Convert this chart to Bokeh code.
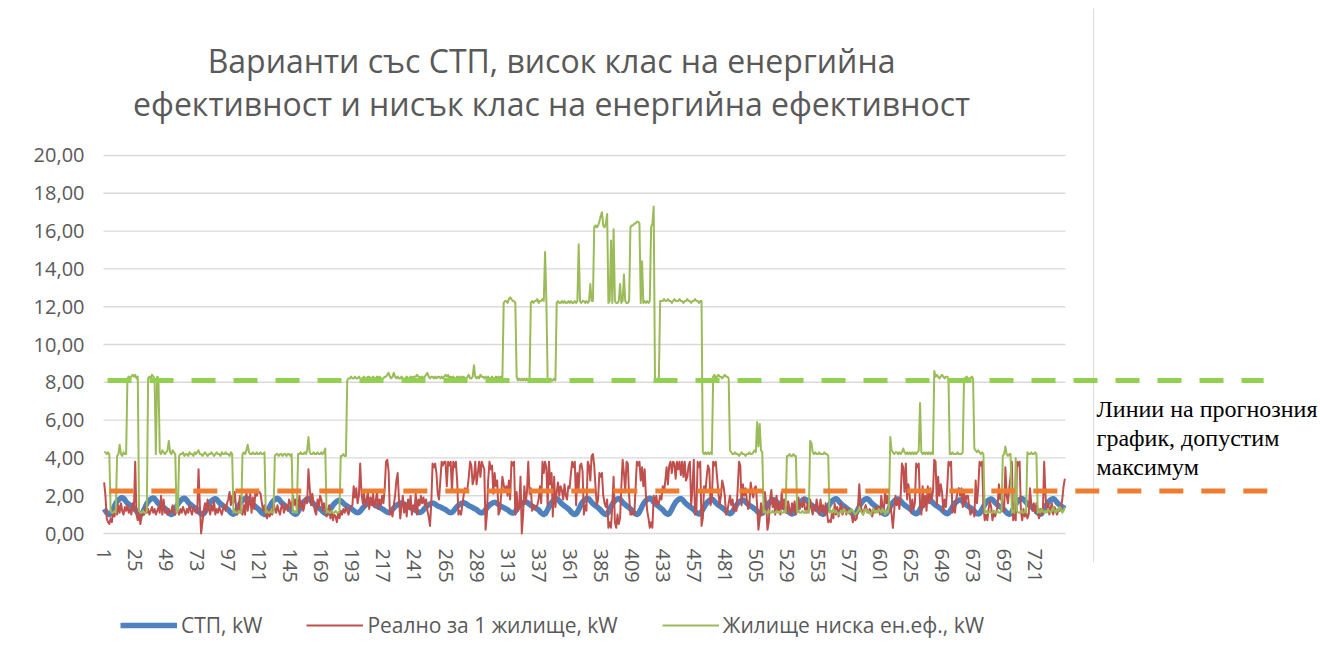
from bokeh.plotting import figure
from bokeh.models import (Range1d, FixedTicker, Label, Legend, LegendItem,
                          CustomJSTickFormatter)
from bokeh.embed import file_html
from bokeh.resources import INLINE

# ---------------- data ----------------
TITLE_LINES = ["Варианти със СТП, висок клас на енергийна",
               "ефективност и нисък клас на енергийна ефективност"]
SERIES_NAMES = ["СТП, kW", "Реално за 1 жилище, kW", "Жилище ниска ен.еф., kW"]
NOTE_TEXT = "Линии на прогнозния\nграфик, допустим\nмаксимум"
X_TICKS = [1, 25, 49, 73, 97, 121, 145, 169, 193, 217, 241, 265, 289, 313, 337, 361,
           385, 409, 433, 457, 481, 505, 529, 553, 577, 601, 625, 649, 673, 697, 721]
Y_TICKS = [0, 2, 4, 6, 8, 10, 12, 14, 16, 18, 20]
LIMIT_LOW_EFF = 8.1     # green dashed line
LIMIT_REAL = 2.25       # orange dashed line

STP = [
 1.3,1.2,1.1,1.05,1.0,1.05,1.15,1.3,1.45,1.6,1.7,1.78,1.83,1.88,1.9,1.86,1.78,1.68,1.6,1.55,1.5,1.45,1.4,1.35,
 1.28,1.18,1.1,1.04,1.0,1.04,1.14,1.28,1.44,1.58,1.68,1.76,1.82,1.86,1.88,1.84,1.76,1.66,1.58,1.53,1.48,1.43,1.38,1.33,
 1.27,1.17,1.09,1.03,1.0,1.03,1.13,1.27,1.42,1.56,1.66,1.74,1.8,1.85,1.87,1.83,1.75,1.65,1.58,1.52,1.47,1.42,1.37,1.32,
 1.26,1.16,1.09,1.04,1.01,1.05,1.15,1.29,1.43,1.56,1.65,1.72,1.78,1.82,1.84,1.8,1.73,1.64,1.57,1.52,1.47,1.42,1.36,1.31,
 1.26,1.17,1.1,1.05,1.02,1.06,1.16,1.3,1.44,1.57,1.67,1.75,1.81,1.86,1.88,1.84,1.76,1.66,1.59,1.53,1.48,1.43,1.37,1.31,
 1.25,1.16,1.09,1.04,1.01,1.04,1.14,1.28,1.42,1.55,1.65,1.73,1.79,1.84,1.86,1.82,1.74,1.65,1.58,1.52,1.47,1.42,1.36,1.3,
 1.25,1.16,1.1,1.05,1.02,1.05,1.15,1.28,1.42,1.54,1.64,1.72,1.78,1.82,1.84,1.8,1.73,1.64,1.57,1.51,1.46,1.41,1.35,1.3,
 1.25,1.17,1.11,1.07,1.05,1.08,1.16,1.27,1.39,1.5,1.58,1.65,1.7,1.74,1.76,1.73,1.67,1.6,1.54,1.49,1.45,1.41,1.36,1.31,
 1.27,1.21,1.16,1.12,1.1,1.12,1.18,1.26,1.35,1.43,1.5,1.55,1.59,1.62,1.64,1.62,1.58,1.53,1.48,1.44,1.41,1.38,1.34,1.3,
 1.27,1.21,1.16,1.13,1.11,1.13,1.19,1.27,1.35,1.42,1.48,1.53,1.57,1.6,1.62,1.6,1.56,1.51,1.47,1.43,1.4,1.37,1.33,1.3,
 1.27,1.22,1.17,1.13,1.11,1.13,1.18,1.26,1.34,1.41,1.47,1.52,1.56,1.59,1.61,1.59,1.55,1.5,1.46,1.43,1.4,1.37,1.33,1.3,
 1.27,1.21,1.16,1.12,1.1,1.12,1.18,1.26,1.35,1.43,1.49,1.54,1.58,1.61,1.63,1.61,1.57,1.52,1.47,1.44,1.41,1.37,1.33,1.3,
 1.26,1.2,1.15,1.11,1.09,1.11,1.17,1.26,1.35,1.43,1.5,1.56,1.6,1.63,1.65,1.63,1.58,1.53,1.48,1.44,1.4,1.37,1.33,1.29,
 1.26,1.2,1.14,1.1,1.08,1.1,1.17,1.27,1.37,1.46,1.53,1.59,1.63,1.66,1.68,1.65,1.6,1.54,1.49,1.45,1.41,1.37,1.33,1.29,
 1.25,1.16,1.09,1.04,1.01,1.04,1.14,1.27,1.41,1.54,1.64,1.72,1.78,1.82,1.84,1.8,1.73,1.64,1.57,1.51,1.46,1.41,1.35,1.3,
 1.24,1.15,1.08,1.03,1.0,1.03,1.13,1.27,1.42,1.56,1.66,1.74,1.8,1.84,1.86,1.82,1.74,1.65,1.58,1.52,1.47,1.42,1.36,1.3,
 1.24,1.15,1.08,1.03,1.0,1.03,1.13,1.27,1.42,1.55,1.65,1.73,1.79,1.83,1.85,1.81,1.74,1.65,1.58,1.52,1.47,1.42,1.36,1.3,
 1.25,1.16,1.09,1.04,1.01,1.04,1.14,1.28,1.43,1.56,1.66,1.74,1.8,1.85,1.87,1.83,1.75,1.66,1.59,1.53,1.48,1.43,1.37,1.31,
 1.26,1.17,1.1,1.05,1.02,1.05,1.15,1.28,1.42,1.55,1.65,1.73,1.79,1.83,1.85,1.81,1.74,1.65,1.58,1.52,1.47,1.42,1.36,1.31,
 1.26,1.17,1.1,1.06,1.03,1.06,1.15,1.27,1.4,1.52,1.61,1.69,1.75,1.79,1.81,1.78,1.71,1.63,1.56,1.51,1.46,1.41,1.36,1.31,
 1.26,1.18,1.12,1.08,1.05,1.08,1.16,1.27,1.39,1.5,1.59,1.66,1.71,1.75,1.77,1.74,1.68,1.61,1.55,1.5,1.45,1.41,1.36,1.31,
 1.26,1.18,1.12,1.07,1.04,1.07,1.16,1.28,1.4,1.51,1.6,1.67,1.73,1.77,1.79,1.76,1.69,1.62,1.56,1.5,1.46,1.41,1.36,1.31,
 1.25,1.17,1.11,1.06,1.03,1.06,1.15,1.27,1.4,1.52,1.62,1.7,1.76,1.8,1.82,1.78,1.71,1.63,1.56,1.51,1.46,1.41,1.35,1.3,
 1.25,1.17,1.1,1.05,1.02,1.05,1.14,1.27,1.41,1.54,1.64,1.72,1.78,1.82,1.84,1.8,1.73,1.64,1.57,1.51,1.46,1.41,1.35,1.3,
 1.25,1.16,1.09,1.04,1.01,1.04,1.14,1.28,1.42,1.55,1.65,1.73,1.79,1.83,1.85,1.81,1.74,1.65,1.58,1.52,1.47,1.42,1.36,1.3,
 1.25,1.17,1.1,1.05,1.02,1.05,1.15,1.28,1.42,1.54,1.64,1.72,1.77,1.81,1.83,1.79,1.72,1.64,1.57,1.51,1.46,1.41,1.36,1.31,
 1.26,1.18,1.11,1.07,1.04,1.07,1.16,1.28,1.41,1.52,1.61,1.68,1.74,1.78,1.8,1.77,1.7,1.62,1.56,1.5,1.46,1.41,1.36,1.31,
 1.26,1.18,1.12,1.07,1.05,1.08,1.16,1.28,1.4,1.51,1.6,1.67,1.72,1.76,1.78,1.75,1.69,1.62,1.55,1.5,1.45,1.41,1.36,1.31,
 1.26,1.18,1.11,1.06,1.03,1.06,1.15,1.28,1.41,1.53,1.63,1.71,1.77,1.81,1.83,1.79,1.72,1.64,1.57,1.51,1.46,1.41,1.36,1.31,
 1.25,1.17,1.1,1.05,1.02,1.05,1.15,1.28,1.42,1.55,1.65,1.73,1.79,1.83,1.85,1.81,1.74,1.65,1.58,1.52,1.47,1.42,1.36,1.31,
 1.26,1.17,1.1,1.05,1.02,1.05,1.15,1.28,1.42,1.54,1.64,1.72,1.78,1.82,1.84,1.8,1.73,1.64,1.57,1.51,1.46,1.41,1.36,1.31,
]

REAL = [
 2.7,2.0,0.8,0.6,0.5,0.8,0.6,1.2,0.9,1.4,1.0,1.5,1.1,1.6,1.2,1.0,1.4,1.2,1.5,1.1,1.3,1.0,1.6,1.2,
 3.8,1.0,0.7,1.1,0.5,0.9,1.2,1.0,1.4,1.1,1.3,1.0,1.2,1.4,1.1,1.3,1.0,1.2,1.4,1.1,2.0,1.0,1.8,1.1,
 1.2,1.0,1.3,1.1,1.2,1.5,1.1,1.0,1.3,1.2,1.0,1.3,1.1,1.4,1.2,1.0,1.3,1.1,1.5,1.2,1.0,1.4,1.2,1.1,
 1.1,3.4,1.5,0.0,0.6,1.2,1.6,1.1,1.8,1.3,1.0,1.5,1.2,1.7,1.0,1.3,1.1,1.4,1.2,1.0,1.3,1.5,1.2,1.6,
 1.8,2.2,1.5,2.0,1.6,2.2,1.4,1.0,1.3,2.0,1.1,1.0,1.5,1.0,2.2,1.2,1.6,2.1,1.1,1.9,1.3,2.2,2.0,2.2,
 2.2,2.1,1.6,1.2,1.5,1.0,0.8,1.3,0.9,1.2,1.0,1.6,1.3,1.1,1.5,1.2,1.0,1.4,1.6,1.1,1.3,1.5,1.2,1.8,
 1.6,1.3,2.0,1.5,1.8,1.3,1.2,2.0,1.4,1.7,1.2,1.5,1.9,1.6,3.4,2.4,1.5,2.1,1.6,1.2,1.0,1.8,1.4,2.0,
 1.8,1.2,1.6,1.3,0.9,1.2,1.5,0.8,1.2,0.7,1.0,0.9,0.6,1.1,0.8,1.2,1.0,1.3,1.1,1.4,1.2,1.0,1.3,1.4,
 1.5,2.5,1.9,2.4,1.6,2.0,3.7,2.2,1.6,2.1,1.4,1.8,2.2,1.3,1.9,1.5,2.1,1.4,1.7,2.2,1.3,1.8,1.5,2.0,
 1.6,2.4,3.8,3.9,3.3,1.0,1.2,0.9,1.5,2.0,2.8,3.2,1.8,0.8,1.4,2.0,1.1,1.6,0.9,1.8,1.3,2.0,1.0,1.5,
 1.2,2.1,1.0,1.8,1.5,2.0,1.6,1.9,1.5,1.8,1.2,0.9,0.4,1.6,3.7,3.5,3.7,3.2,2.1,1.8,2.8,3.8,3.6,3.8,
 3.8,2.5,3.8,3.6,3.8,2.2,3.8,3.5,3.8,2.8,1.0,1.2,1.0,1.5,2.0,2.4,2.2,2.4,3.0,3.8,3.6,2.6,2.9,3.8,
 2.6,3.2,3.8,3.0,3.8,3.6,3.4,0.2,1.0,2.8,3.8,3.4,3.6,2.1,3.2,2.5,2.8,1.0,1.2,2.0,3.0,2.6,2.2,2.5,
 2.0,2.8,1.8,3.8,3.6,3.8,1.0,2.2,1.2,1.4,3.0,0.0,1.0,2.5,1.6,2.2,3.8,2.1,2.4,1.2,1.5,1.3,1.4,1.5,
 1.8,2.5,1.6,3.8,3.2,3.8,3.5,1.5,3.8,2.6,3.2,0.9,3.0,1.4,2.2,2.7,2.0,2.5,2.3,1.8,2.6,2.0,1.8,2.5,
 2.4,3.2,3.8,3.5,3.8,1.5,3.2,2.4,3.6,3.7,3.3,1.0,1.5,1.2,3.8,3.6,2.8,4.1,4.2,3.6,2.5,1.5,1.8,3.2,
 3.0,3.2,2.0,1.6,1.4,1.8,0.3,0.6,0.3,1.5,3.0,0.6,0.3,1.0,0.5,0.8,2.5,3.9,3.2,2.2,3.8,3.7,2.0,1.0,
 1.0,1.2,1.0,2.4,3.8,3.6,3.8,2.8,3.5,2.5,3.4,2.0,1.2,0.8,0.3,0.6,0.3,2.0,1.6,2.0,1.5,1.6,2.0,1.8,
 2.5,2.2,2.8,3.5,2.6,3.6,3.8,3.2,3.8,3.7,2.9,3.8,3.4,3.8,3.1,3.8,3.0,3.8,2.8,3.0,3.6,3.8,1.5,2.4,
 3.9,1.0,1.2,3.8,3.5,3.8,0.4,0.8,2.5,2.2,3.0,3.6,3.4,1.5,1.8,3.8,3.6,3.8,3.0,2.2,1.5,2.0,2.8,2.5,
 2.0,1.0,1.2,1.6,2.0,1.5,1.8,1.2,1.4,1.2,2.4,3.8,3.6,1.5,2.6,2.0,2.4,1.8,1.3,1.5,2.7,2.2,1.9,2.4,
 2.5,1.5,0.2,0.8,1.6,1.0,1.4,2.2,1.6,0.2,0.6,1.8,2.3,1.4,1.8,1.0,2.0,1.2,1.6,1.0,2.2,1.3,1.8,1.1,
 1.1,1.7,1.3,1.0,1.6,1.2,1.7,1.0,1.5,1.9,1.3,1.6,1.4,1.9,1.3,1.1,1.6,1.2,1.8,1.3,1.0,1.5,1.2,1.8,
 1.4,1.0,1.8,1.2,1.5,1.0,1.6,1.1,0.6,0.7,0.6,1.2,0.8,1.6,1.0,1.4,0.9,1.3,1.6,1.0,1.2,1.4,1.0,1.3,
 1.1,1.2,1.0,0.6,0.9,0.7,0.8,1.4,2.6,1.5,1.2,1.0,1.3,1.5,1.2,1.1,1.3,1.2,0.9,1.3,1.1,1.4,1.2,1.4,
 1.0,2.0,1.4,1.2,2.3,1.6,2.0,1.2,1.5,1.0,0.3,1.2,2.0,1.5,1.8,1.3,2.0,3.7,3.5,2.2,3.7,1.8,2.6,2.0,
 1.1,1.8,1.3,1.6,3.7,3.5,3.7,1.5,1.0,2.5,1.4,2.0,1.2,2.5,1.6,2.4,1.8,2.2,3.9,3.8,1.5,3.0,2.0,2.6,
 2.2,1.2,1.8,1.4,2.4,3.8,3.6,3.8,1.1,1.4,1.1,1.8,2.2,2.4,2.0,2.4,1.4,2.2,1.6,2.0,2.0,1.4,1.0,1.2,
 1.2,0.9,2.8,1.6,2.4,3.8,3.6,3.8,1.5,0.7,1.0,0.7,1.3,1.7,1.4,0.7,1.2,0.9,1.1,1.5,2.6,1.8,2.2,1.2,
 1.2,3.5,2.0,1.6,2.4,3.0,3.8,0.7,1.0,0.7,3.8,3.6,3.8,1.2,0.7,1.3,0.9,1.1,0.8,1.0,2.4,1.6,1.2,1.6,
 1.1,1.6,1.3,0.8,1.3,1.0,1.2,3.8,2.0,1.2,1.6,1.0,1.4,1.6,1.0,1.4,1.2,1.0,1.3,1.2,1.4,1.8,2.5,2.9,
]

LOW_EFF = [
 4.3,4.3,4.2,4.3,4.2,1.2,1.1,1.1,1.2,1.1,4.1,4.2,4.7,4.2,4.1,4.3,4.2,4.2,8.2,8.3,8.2,8.3,8.4,8.3,
 8.4,8.2,8.3,1.2,1.1,1.1,1.2,1.1,1.1,1.2,8.2,8.3,8.2,8.4,8.3,8.2,4.2,8.3,8.2,4.3,4.2,4.4,4.3,4.2,
 4.3,4.4,4.9,4.3,4.2,4.4,4.3,4.2,1.1,1.2,4.1,4.2,4.2,4.3,4.1,4.2,4.2,4.1,4.3,4.2,4.2,4.1,4.3,4.2,
 4.3,4.4,4.2,4.2,4.1,4.2,4.3,4.2,4.1,4.2,4.2,4.3,4.2,4.1,4.2,4.3,4.2,4.2,4.1,4.3,4.2,4.2,4.3,4.2,
 4.2,4.1,4.3,4.2,1.1,1.2,1.1,1.1,1.2,1.1,1.1,4.2,4.3,4.2,4.4,4.7,4.3,4.2,4.2,4.3,4.2,4.2,4.3,4.2,
 4.2,4.3,4.2,4.2,4.3,1.1,1.2,1.1,1.1,1.2,1.1,1.1,4.1,4.2,4.2,4.1,4.2,4.2,4.1,4.2,4.2,4.1,4.2,4.2,
 4.1,4.2,1.1,1.2,1.1,1.1,4.2,4.2,4.3,4.2,4.2,4.3,4.2,4.4,5.1,4.3,4.2,4.2,4.3,4.2,4.2,4.3,4.2,4.2,
 4.3,4.2,4.3,4.5,1.1,1.2,1.1,1.1,1.2,1.1,1.1,1.2,1.1,1.1,1.2,4.1,4.1,4.2,4.1,4.1,8.1,8.2,8.2,8.3,
 8.2,8.2,8.3,8.2,8.2,8.3,8.2,8.2,8.2,8.3,8.2,8.2,8.3,8.3,8.2,8.2,8.3,8.2,8.2,8.3,8.2,8.3,8.2,8.2,
 8.2,8.3,8.3,8.4,8.5,8.3,8.2,8.3,8.5,8.3,8.2,8.3,8.2,8.2,8.3,8.2,8.2,8.2,8.3,8.2,8.2,8.3,8.2,8.3,
 8.3,8.3,8.4,8.3,8.3,8.2,8.3,8.2,8.3,8.4,8.5,8.3,8.2,8.3,8.3,8.2,8.3,8.2,8.3,8.3,8.2,8.3,8.2,8.3,
 8.4,8.3,8.4,8.2,8.3,8.2,8.3,8.2,8.2,8.3,8.2,8.3,8.2,8.3,8.3,8.2,8.2,8.3,8.4,8.2,8.2,8.3,8.9,8.3,
 8.2,8.3,8.2,8.4,8.3,8.3,8.2,8.3,8.2,8.3,8.2,8.2,8.3,8.2,8.2,8.3,8.2,8.3,8.2,8.3,8.2,12.2,12.3,12.3,
 12.2,12.4,12.5,12.4,12.3,12.3,12.2,8.3,8.1,8.2,8.1,8.2,8.1,8.2,8.1,8.2,8.1,8.2,12.2,12.3,12.2,12.3,12.3,12.4,
 12.2,12.3,12.3,12.4,12.3,14.9,12.3,8.1,8.1,8.2,8.1,8.1,8.2,8.1,12.2,12.3,12.2,12.2,12.3,12.2,12.3,12.2,12.2,12.3,
 12.2,12.3,12.2,12.2,12.3,12.2,12.3,15.3,12.3,12.2,12.3,12.3,12.2,12.3,12.2,12.3,13.2,12.3,12.3,16.2,16.3,16.2,16.3,16.5,
 16.8,17.0,16.3,16.2,16.4,16.9,12.2,12.3,15.5,12.2,16.1,12.3,12.2,12.2,12.3,13.2,12.2,12.3,13.7,12.3,12.2,12.2,12.3,16.2,
 16.3,16.3,16.4,16.4,16.5,16.5,16.4,12.2,14.4,12.2,12.3,12.2,12.3,12.2,12.3,16.2,16.4,17.3,8.2,8.1,8.2,8.2,12.3,12.3,
 12.3,12.4,12.3,12.3,12.4,12.3,12.3,12.2,12.3,12.4,12.3,12.3,12.3,12.4,12.3,12.3,12.2,12.3,12.3,12.4,12.3,12.3,12.2,12.3,
 12.3,12.4,12.3,12.3,12.2,12.3,12.3,4.3,4.2,4.3,4.2,4.3,4.2,4.3,4.2,8.3,8.4,8.2,8.3,8.4,8.3,8.3,8.2,8.3,
 8.4,8.3,8.3,8.2,4.4,4.3,4.2,4.2,4.3,4.2,4.2,4.1,4.2,4.3,4.2,4.2,4.1,4.2,4.2,4.3,4.2,4.2,4.3,4.4,
 4.3,5.9,4.6,5.8,4.4,4.3,1.1,1.2,1.1,1.1,1.2,1.1,1.1,1.2,1.1,1.1,1.2,1.1,1.1,1.2,1.1,1.1,1.2,1.1,
 4.1,4.1,4.2,4.1,4.1,4.2,4.1,4.1,1.1,1.2,1.1,1.1,1.2,1.1,1.1,1.2,1.1,1.1,4.9,4.8,4.3,4.2,4.3,4.2,
 4.2,4.3,4.2,4.2,4.2,4.3,4.2,4.2,4.1,1.1,1.2,1.1,1.3,1.1,1.2,1.1,1.0,1.1,1.2,1.1,1.3,1.2,1.1,1.1,
 1.2,1.1,1.3,1.2,1.1,1.0,1.1,1.2,1.4,1.2,1.1,1.0,1.2,1.3,1.1,1.2,1.1,1.0,1.2,1.3,1.1,1.2,1.1,1.3,
 1.2,1.1,1.3,1.2,1.0,1.2,1.1,1.4,5.1,4.4,4.3,4.2,4.3,4.3,4.2,4.3,4.2,4.3,4.5,4.3,4.2,4.3,4.2,4.3,
 4.2,4.3,4.2,4.3,4.2,4.3,4.4,6.9,4.3,4.2,4.3,4.2,4.3,4.2,4.3,4.2,4.3,4.2,8.6,8.3,8.4,8.3,8.2,8.3,
 8.4,8.3,8.2,8.3,8.3,8.2,4.2,4.2,4.3,4.2,4.2,4.2,4.3,4.2,4.2,4.2,4.3,8.2,8.2,8.3,8.2,8.2,8.2,8.3,
 8.2,4.5,4.4,4.3,4.4,4.3,4.2,4.3,4.2,1.1,1.2,1.1,1.1,1.2,1.1,1.1,1.2,1.1,1.1,1.2,1.1,1.1,1.2,4.1,
 4.2,4.6,4.2,4.1,4.2,4.2,1.1,1.2,1.1,4.0,1.2,1.1,1.1,1.2,1.1,1.1,1.2,1.1,4.3,4.2,4.2,4.3,4.2,4.2,
 4.3,4.2,1.1,1.2,1.1,1.3,1.2,1.1,1.2,1.1,1.3,1.2,1.1,1.2,1.4,1.2,1.1,1.3,1.2,1.4,1.3,1.1,1.2,1.4,
]

# ---------------- figure ----------------
# The frame covers the whole canvas so that title, legend and note (annotations are
# clipped to the frame) stay visible; axes are pinned inside it with fixed_location.
GRID = "#d9d9d9"
TXT = "#595959"
N_CAT = len(STP)

p = figure(width=1320, height=654, output_backend="svg", toolbar_location=None, title=None,
           x_range=Range1d(-79.16, 941.7), y_range=Range1d(-6.402, 28.201),
           min_border=0, min_border_left=0, min_border_right=0,
           min_border_top=0, min_border_bottom=0)
p.outline_line_color = None
p.xgrid.visible = False
p.ygrid.visible = False
p.background_fill_color = "white"
p.border_fill_color = "white"

# axes
xa = p.xaxis[0]
xa.fixed_location = 0
xa.ticker = FixedTicker(ticks=X_TICKS)
xa.major_label_orientation = "vertical"
xa.axis_line_color = None
xa.major_tick_line_color = None
xa.minor_tick_line_color = None
xa.major_tick_out = 0
xa.major_tick_in = 0
xa.major_label_standoff = 15
xa.major_label_text_font = "Open Sans"
xa.major_label_text_font_size = "20px"
xa.major_label_text_color = TXT

ya = p.yaxis[0]
ya.fixed_location = 0.5
ya.ticker = FixedTicker(ticks=Y_TICKS)
ya.formatter = CustomJSTickFormatter(code="return tick.toFixed(2).replace('.', ',')")
ya.axis_line_color = None
ya.major_tick_line_color = None
ya.minor_tick_line_color = None
ya.major_tick_out = 0
ya.major_tick_in = 0
ya.major_label_standoff = 19
ya.major_label_text_font = "Open Sans"
ya.major_label_text_font_size = "20px"
ya.major_label_text_color = TXT

# horizontal gridlines limited to the category span
p.segment(x0=[0.5] * len(Y_TICKS), x1=[N_CAT + 0.5] * len(Y_TICKS), y0=Y_TICKS, y1=Y_TICKS,
          line_color=GRID, line_width=1.4)

# chart-area right border
p.segment(x0=[766.2], x1=[766.2], y0=[27.78], y1=[-1.53], line_color=GRID, line_width=1)

r_stp = p.line(list(range(1, len(STP) + 1)), STP, line_color="#4F81BD", line_width=5.5,
               line_join="round")
r_real = p.line(list(range(1, len(REAL) + 1)), REAL, line_color="#C0504D", line_width=2,
                line_join="round")
r_low = p.line(list(range(1, len(LOW_EFF) + 1)), LOW_EFF, line_color="#9BBB59", line_width=2,
               line_join="round")

# limit lines (extend past the chart to the note)
p.line([3.6, 897.7], [LIMIT_LOW_EFF, LIMIT_LOW_EFF], line_color="#92D050", line_width=5,
       line_dash="24 18")
p.line([5.0, 900.7], [LIMIT_REAL, LIMIT_REAL], line_color="#ED7D31", line_width=5,
       line_dash="24 18")

# legend below the axis
legend = Legend(items=[LegendItem(label=SERIES_NAMES[0], renderers=[r_stp]),
                       LegendItem(label=SERIES_NAMES[1], renderers=[r_real]),
                       LegendItem(label=SERIES_NAMES[2], renderers=[r_low])],
                orientation="horizontal", location=(120, 15),
                glyph_width=57, glyph_height=20, label_standoff=4, spacing=44,
                padding=4, margin=0,
                label_text_font="Open Sans", label_text_font_size="21px",
                label_text_color=TXT, background_fill_alpha=0, border_line_color=None)
p.add_layout(legend)

# title (two centred lines over the chart area)
for txt, yy in zip(TITLE_LINES, [25.03, 22.75]):
    p.add_layout(Label(x=347.0, y=yy, text=txt, text_align="center", text_baseline="middle",
                       text_font="Open Sans", text_font_size="32px", text_color=TXT))

# note on the right
p.add_layout(Label(x=768.5, y=7.25, text=NOTE_TEXT, text_align="left", text_baseline="top",
                   text_font="Liberation Serif", text_font_size="24px", text_color="black",
                   text_line_height=1.1))

open("out.html", "w").write(file_html(p, INLINE))
